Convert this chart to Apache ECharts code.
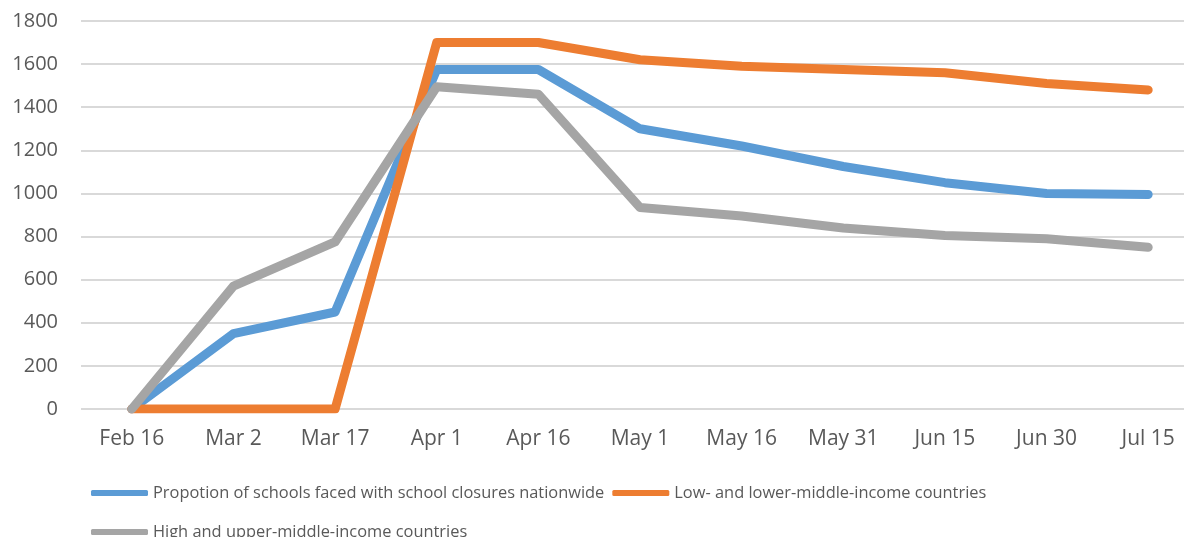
<!DOCTYPE html>
<html><head><meta charset="utf-8">
<script src="https://cdn.jsdelivr.net/npm/echarts@6/dist/echarts.min.js"></script>
<style>html,body{margin:0;padding:0;background:#fff}#c{width:1184px;height:537px}</style>
</head><body><div id="c"></div>
<script>
var categories = ['Feb 16','Mar 2','Mar 17','Apr 1','Apr 16','May 1','May 16','May 31','Jun 15','Jun 30','Jul 15'];
var nationwide = [0, 350, 450, 1575, 1575, 1300, 1220, 1125, 1050, 1000, 995];
var lowIncome = [0, 0, 0, 1700, 1700, 1620, 1590, 1575, 1560, 1510, 1480];
var highIncome = [0, 570, 775, 1495, 1460, 935, 895, 840, 805, 790, 750];
var seriesNames = ['Propotion of schools faced with school closures nationwide','Low- and lower-middle-income countries','High and upper-middle-income countries'];
var colors = ['#5B9BD5','#ED7D31','#A5A5A5'];
var FONT = 'Open Sans';
var chart = echarts.init(document.getElementById('c'));
function mk(name, data, color){
  return {name:name, type:'line', data:data, showSymbol:false, symbol:'none', color:color,
    lineStyle:{width:9, color:color, cap:'round', join:'round'}};
}
var legStyle = {fontFamily:FONT, fontSize:16.4, color:'#595959'};
chart.setOption({
  animation:false,
  grid:{left:81, top:21, width:1118, height:388, outerBoundsMode:'none', containLabel:false},
  legend:[
    {data:[seriesNames[0],seriesNames[1]], left:86, top:480, icon:'roundRect', itemWidth:57, itemHeight:6, itemGap:8, textStyle:legStyle},
    {data:[seriesNames[2]], left:86, top:519, icon:'roundRect', itemWidth:57, itemHeight:6, itemGap:8, textStyle:legStyle}
  ],
  xAxis:{type:'category', data:categories, boundaryGap:true,
    axisLine:{show:false}, axisTick:{show:false},
    axisLabel:{fontFamily:FONT, fontSize:21, color:'#595959', margin:20}},
  yAxis:{type:'value', min:0, max:1800, interval:200,
    axisLine:{show:false}, axisTick:{show:false},
    splitLine:{lineStyle:{color:'#D9D9D9', width:2}},
    axisLabel:{fontFamily:FONT, fontSize:20, color:'#595959', margin:23, formatter:function(v){return String(v);}}},
  series:[mk(seriesNames[0], nationwide, colors[0]), mk(seriesNames[1], lowIncome, colors[1]), mk(seriesNames[2], highIncome, colors[2])]
});
</script></body></html>
